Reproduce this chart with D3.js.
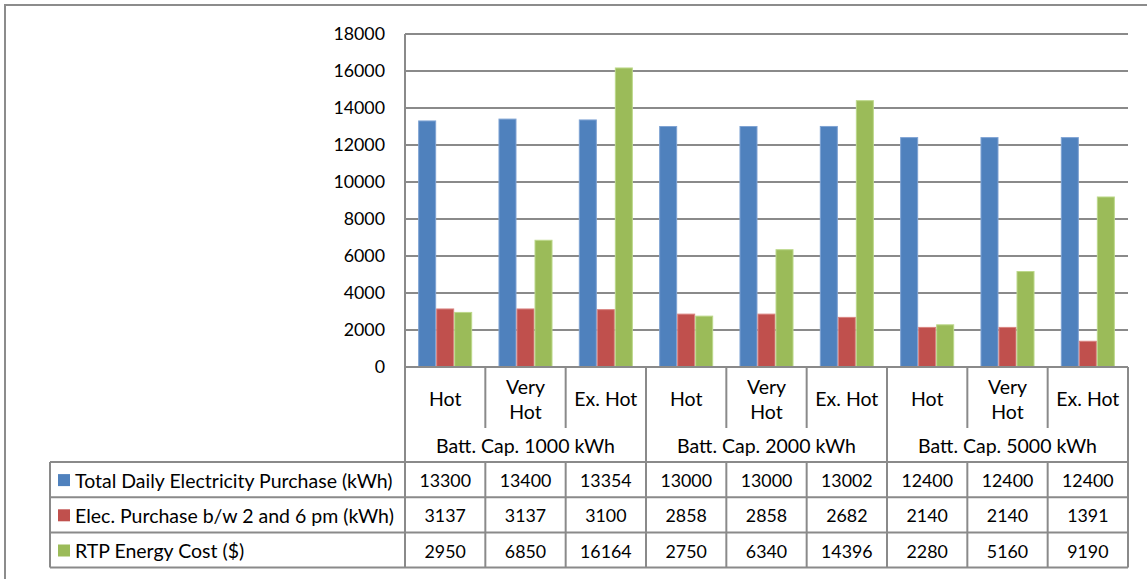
<!DOCTYPE html>
<html>
<head>
<meta charset="utf-8">
<script src="https://cdn.jsdelivr.net/npm/d3@7"></script>
<style>
  html, body { margin: 0; padding: 0; background: #fff; }
  svg text { font-family: Lato, "Open Sans", sans-serif; fill: #000; }
</style>
</head>
<body>
<svg id="chart" width="1147" height="579"></svg>
<script>
// ---- data ----
const groups = ["Batt. Cap. 1000 kWh", "Batt. Cap. 2000 kWh", "Batt. Cap. 5000 kWh"];
const subCategories = [["Hot"], ["Very", "Hot"], ["Ex. Hot"]];
const seriesNames = [
  "Total Daily Electricity Purchase (kWh)",
  "Elec. Purchase b/w 2 and 6 pm (kWh)",
  "RTP Energy Cost ($)"
];
const totalDaily = [13300, 13400, 13354, 13000, 13000, 13002, 12400, 12400, 12400];
const elecPeak   = [3137, 3137, 3100, 2858, 2858, 2682, 2140, 2140, 1391];
const rtpCost    = [2950, 6850, 16164, 2750, 6340, 14396, 2280, 5160, 9190];
const yTicks = [0, 2000, 4000, 6000, 8000, 10000, 12000, 14000, 16000, 18000];
const colors = ["#4F81BD", "#C0504D", "#9BBB59"];
const strokes = ["#7FA3D3", "#D98380", "#BCD88A"];

const seriesValues = [totalDaily, elecPeak, rtpCost];
const columns = d3.range(groups.length * subCategories.length);

// ---- layout ----
const svg = d3.select("#chart");
const plotLeft = 405, plotRight = 1128, plotTop = 34, plotBottom = 367;
const subRowBottom = 428, headerBottom = 462;
const rowH = 35.2;
const tableLeft = 50;
const gridColor = "#8a8a8a";
const numSize = 17.8;
const wordSize = 19.5;

// outer frame (partially visible)
svg.append("path")
  .attr("d", `M5,579 L5,5 L1147,5`)
  .attr("fill", "none").attr("stroke", "#8c8c8c").attr("stroke-width", 2);

const x = d3.scaleBand().domain(columns).range([plotLeft, plotRight]).padding(0);
const xs = d3.scaleBand().domain(d3.range(3)).range([0, x.bandwidth()]).paddingInner(0).paddingOuter(0.73);
const y = d3.scaleLinear().domain([0, 18000]).range([plotBottom, plotTop]);

// gridlines
svg.append("g").selectAll("line").data(yTicks).join("line")
  .attr("x1", plotLeft).attr("x2", plotRight)
  .attr("y1", d => y(d)).attr("y2", d => y(d))
  .attr("stroke", gridColor).attr("stroke-width", 2);

// y axis
const yAxis = d3.axisLeft(y).tickValues(yTicks).tickSize(0).tickPadding(20).tickFormat(d3.format("d"));
const ya = svg.append("g").attr("transform", `translate(${plotLeft},0)`).call(yAxis);
ya.select(".domain").remove();
ya.selectAll("text").style("font-size", numSize + "px").style("font-family", "Lato, sans-serif").attr("fill", "#000");
svg.append("line").attr("x1", plotLeft).attr("x2", plotLeft).attr("y1", plotTop).attr("y2", plotBottom)
  .attr("stroke", gridColor).attr("stroke-width", 2);

// bars
seriesValues.forEach((vals, s) => {
  svg.append("g").selectAll("rect").data(columns).join("rect")
    .attr("x", i => x(i) + xs(s) + 0.5)
    .attr("width", xs.bandwidth() - 1)
    .attr("y", i => y(vals[i]))
    .attr("height", i => y(0) - y(vals[i]))
    .attr("fill", colors[s])
    .attr("stroke", strokes[s]).attr("stroke-width", 1);
});

// zero line redraw
svg.append("line").attr("x1", plotLeft).attr("x2", plotRight).attr("y1", y(0)).attr("y2", y(0))
  .attr("stroke", gridColor).attr("stroke-width", 2);

// ---- data table ----
const tbl = svg.append("g");
const line = (x1, y1, x2, y2) => tbl.append("line")
  .attr("x1", x1).attr("y1", y1).attr("x2", x2).attr("y2", y2)
  .attr("stroke", gridColor).attr("stroke-width", 2);

// sub-category dividers
columns.forEach(i => {
  const xl = x(i);
  if (i % 3 === 0) line(xl, plotBottom, xl, headerBottom + 3 * rowH);
  else {
    line(xl, plotBottom, xl, subRowBottom);
    line(xl, headerBottom, xl, headerBottom + 3 * rowH);
  }
});
line(plotRight, plotBottom, plotRight, headerBottom + 3 * rowH);
line(tableLeft, headerBottom, tableLeft, headerBottom + 3 * rowH);
for (let r = 0; r <= 3; r++) line(tableLeft, headerBottom + r * rowH, plotRight, headerBottom + r * rowH);

// sub-category labels
columns.forEach(i => {
  const lbl = subCategories[i % 3];
  const cx = x(i) + x.bandwidth() / 2;
  const cy = (plotBottom + subRowBottom) / 2 + 0.5;
  const t = tbl.append("text").attr("x", cx).attr("text-anchor", "middle")
    .attr("dominant-baseline", "central").style("font-size", wordSize + "px");
  lbl.forEach((s, k) => {
    t.append("tspan").attr("x", cx).attr("y", cy + (k - (lbl.length - 1) / 2) * 25).text(s);
  });
});
// group labels
groups.forEach((g, gi) => {
  const cx = (x(gi * 3) + x(gi * 3 + 2) + x.bandwidth()) / 2;
  tbl.append("text").attr("x", cx).attr("y", (subRowBottom + headerBottom) / 2 + 0.5)
    .attr("text-anchor", "middle").attr("dominant-baseline", "central")
    .style("font-size", wordSize + "px").text(g);
});
// rows
seriesValues.forEach((vals, s) => {
  const cy = headerBottom + s * rowH + rowH / 2;
  tbl.append("rect").attr("x", 58).attr("y", cy - 5.5).attr("width", 12).attr("height", 12).attr("fill", colors[s]);
  tbl.append("text").attr("x", 75).attr("y", cy + 0.5).attr("dominant-baseline", "central")
    .style("font-size", wordSize + "px").text(seriesNames[s]);
  columns.forEach(i => {
    tbl.append("text").attr("x", x(i) + x.bandwidth() / 2).attr("y", cy + 0.5)
      .attr("text-anchor", "middle").attr("dominant-baseline", "central")
      .style("font-size", numSize + "px").text(vals[i]);
  });
});
</script>
</body>
</html>
